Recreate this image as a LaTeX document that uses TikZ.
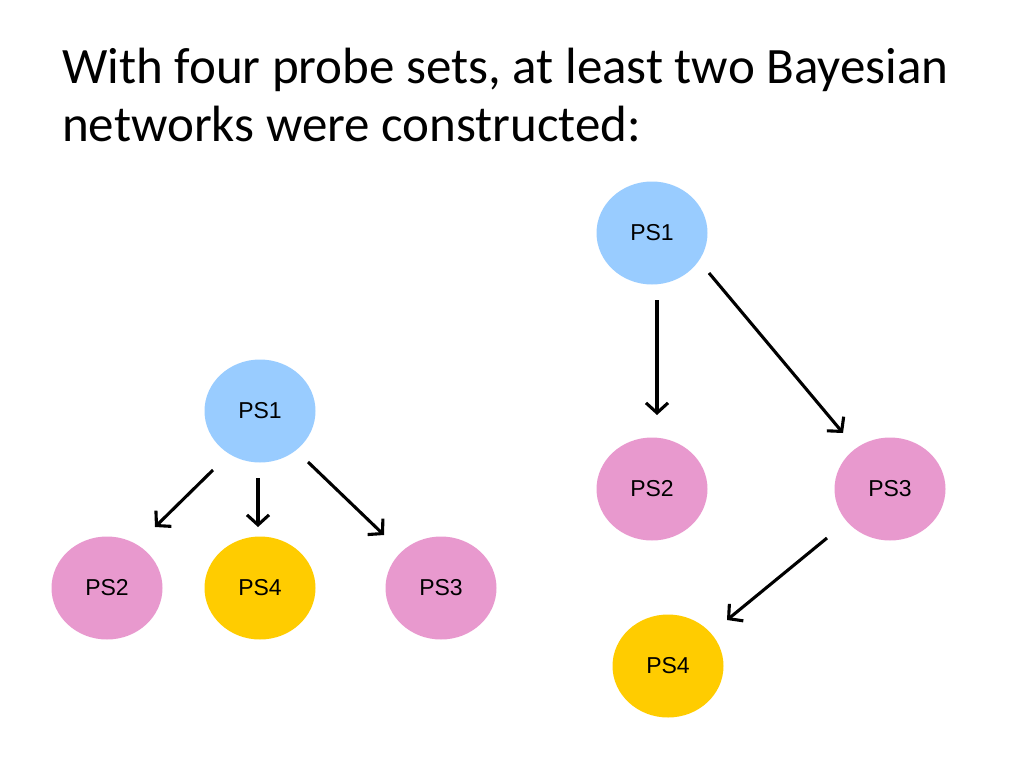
\documentclass[tikz,border=0pt]{standalone}
\usepackage{fontspec}
\setmainfont{Carlito}
\newfontfamily\nodefont{Liberation Sans}
\usetikzlibrary{arrows.meta,calc,shapes.geometric}
\definecolor{psblue}{RGB}{153,204,255}
\definecolor{pspink}{RGB}{232,153,206}
\definecolor{psyellow}{RGB}{255,204,0}
\begin{document}
\begin{tikzpicture}[x=1pt,y=-1pt,
  psnode/.style={ellipse,minimum width=111pt,minimum height=103pt,inner sep=0pt,draw=none,font=\nodefont\fontsize{23}{27}\selectfont},
  bluenode/.style={psnode,fill=psblue},
  pinknode/.style={psnode,fill=pspink},
  yellownode/.style={psnode,fill=psyellow},
  edge/.style={line width=3.1pt,-{Straight Barb[length=10pt,width=22pt,line width=3.1pt]}}]
\useasboundingbox (0,0) rectangle (1024,768);
\node[anchor=base west,align=left,inner sep=0pt,font=\fontsize{51}{58}\selectfont] (title) at (62,141)
  {With four probe sets, at least two Bayesian\\networks were constructed:};
% left network
\node[bluenode] (L1) at (260,411) {PS1};
\node[pinknode] (L2) at (107,588) {PS2};
\node[yellownode] (L4) at (260,588) {PS4};
\node[pinknode] (L3) at (441,588) {PS3};
\draw[edge] ($(L1)+(-47,59)$) -- ($(L2)+(48,-61)$);
\draw[edge] ($(L1)+(-2,67)$) -- ($(L4)+(-2,-61)$);
\draw[edge] ($(L1)+(48,51)$) -- ($(L3)+(-57,-53)$);
% right network
\node[bluenode] (R1) at (652,233) {PS1};
\node[pinknode] (R2) at (652,489) {PS2};
\node[pinknode] (R3) at (890,489) {PS3};
\node[yellownode] (R4) at (668,666) {PS4};
\draw[edge] ($(R1)+(5,67)$) -- ($(R2)+(5,-74)$);
\draw[edge] ($(R1)+(57,40)$) -- ($(R3)+(-47,-56)$);
\draw[edge] ($(R3)+(-63,49)$) -- ($(R4)+(59,-46)$);
\end{tikzpicture}
\end{document}
